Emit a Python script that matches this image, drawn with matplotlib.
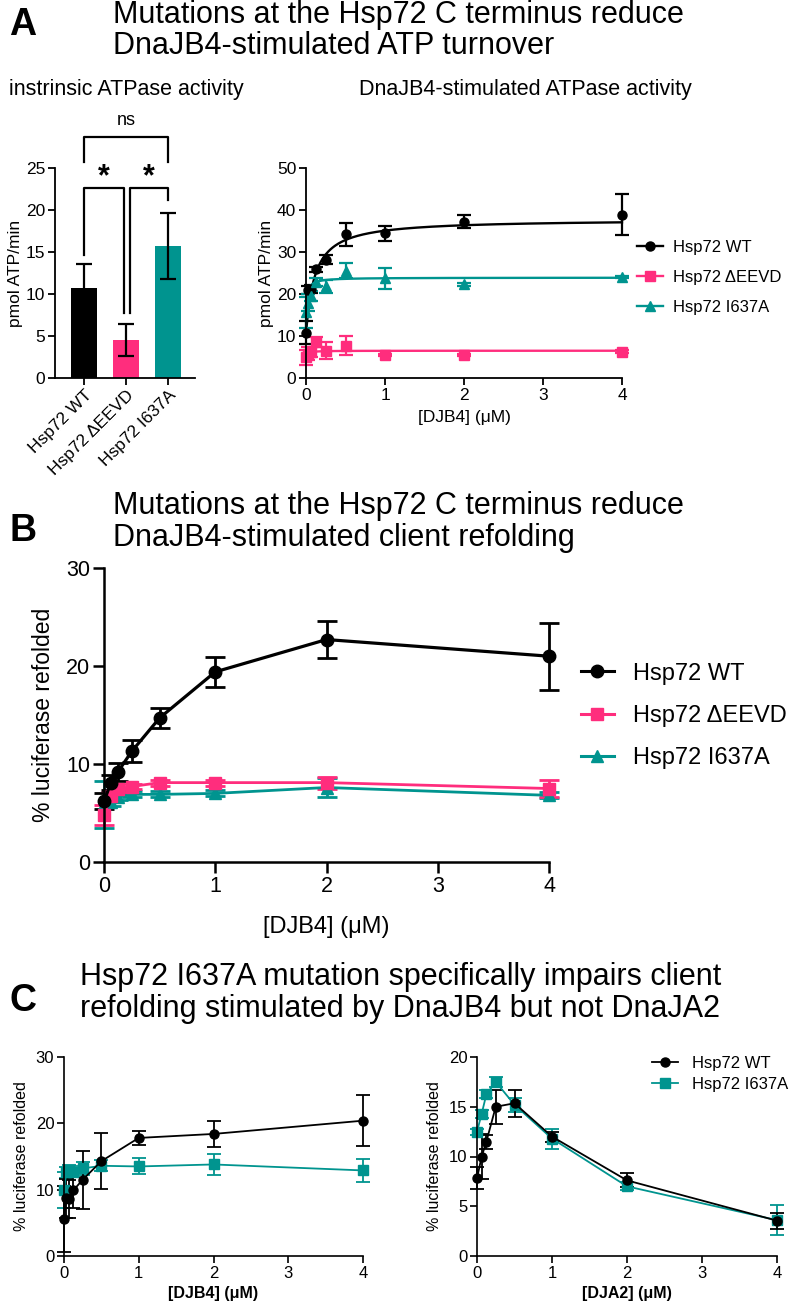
import numpy as np
import matplotlib
matplotlib.use('Agg')
from matplotlib import pyplot as plt
from matplotlib.lines import Line2D

plt.rcParams['font.family'] = ['Liberation Sans', 'DejaVu Sans']

BLACK = '#000000'
PINK = '#ff2d7d'
TEAL = '#00948f'

# ---- panel A: intrinsic ATPase (bars)
bar_labels = ['Hsp72 WT', 'Hsp72 \u0394EEVD', 'Hsp72 I637A']
bar_values = [10.7, 4.5, 15.7]
bar_err = [2.9, 1.9, 3.9]

# ---- panel A: DnaJB4-stimulated ATPase (points + hyperbolic fit)
a_x = [0, 0.03125, 0.0625, 0.125, 0.25, 0.5, 1, 2, 4]
a_wt = [10.8, 21.0, 21.2, 25.9, 28.2, 34.2, 34.5, 37.2, 38.9]
a_wt_err = [2.8, 1.0, 1.0, 0.6, 1.0, 2.8, 1.8, 1.6, 4.8]
a_eevd = [4.9, 5.8, 6.2, 8.5, 6.5, 7.7, 5.5, 5.5, 6.3]
a_eevd_err = [1.8, 1.5, 1.2, 1.2, 2.0, 2.3, 0.3, 0.3, 0.3]
a_i637a = [15.6, 17.9, 19.5, 22.8, 21.8, 25.5, 23.8, 22.3, 24.0]
a_i637a_err = [3.8, 2.0, 1.2, 1.0, 1.5, 1.8, 2.5, 0.3, 0.3]
# fit parameters y0, vmax, K
fit_wt = (10.4, 27.4, 0.11)
fit_eevd = (5.0, 1.5, 0.02)
fit_i637a = (15.5, 8.4, 0.018)

# ---- panel B: DnaJB4-stimulated refolding
b_x = [0, 0.0625, 0.125, 0.25, 0.5, 1, 2, 4]
b_wt = [6.2, 8.1, 9.2, 11.3, 14.7, 19.4, 22.7, 21.0]
b_wt_err = [0.8, 0.8, 0.9, 1.1, 1.05, 1.5, 1.85, 3.4]
b_eevd = [4.8, 6.7, 7.4, 7.7, 8.1, 8.1, 8.1, 7.5]
b_eevd_err = [1.0, 0.4, 0.3, 0.3, 0.3, 0.3, 0.6, 0.9]
b_i637a = [5.9, 6.1, 6.6, 6.9, 6.9, 7.0, 7.6, 6.8]
b_i637a_err = [2.4, 0.4, 0.3, 0.3, 0.3, 0.3, 1.0, 0.3]

# ---- panel C: DJB4 vs DJA2
c_x = [0, 0.03125, 0.0625, 0.125, 0.25, 0.5, 1, 2, 4]
c_djb4_wt = [5.6, 8.7, 8.6, 9.9, 11.5, 14.3, 17.8, 18.4, 20.4]
c_djb4_wt_err = [5.0, 2.9, 2.8, 2.6, 4.4, 4.2, 1.0, 2.0, 3.8]
c_djb4_i637a = [10.0, 12.6, 12.9, 12.7, 13.2, 13.6, 13.5, 13.8, 12.9]
c_djb4_i637a_err = [2.7, 0.8, 0.8, 0.8, 1.0, 0.8, 1.2, 1.6, 1.7]
c2_x = [0, 0.0625, 0.125, 0.25, 0.5, 1, 2, 4]
c_dja2_wt = [7.8, 10.0, 11.5, 15.0, 15.35, 12.0, 7.6, 3.55]
c_dja2_wt_err = [1.1, 2.3, 0.7, 1.7, 1.35, 0.5, 0.7, 0.8]
c_dja2_i637a = [12.5, 14.3, 16.25, 17.5, 15.2, 11.8, 7.0, 3.6]
c_dja2_i637a_err = [0.3, 0.4, 0.4, 0.5, 0.7, 1.0, 0.4, 1.5]


def style(ax, lw, ticklen, fs):
    ax.spines['top'].set_visible(False)
    ax.spines['right'].set_visible(False)
    ax.spines['left'].set_linewidth(lw)
    ax.spines['bottom'].set_linewidth(lw)
    ax.tick_params(direction='out', width=lw, length=ticklen, labelsize=fs, pad=2)


W, H = 791, 1308
fig = plt.figure(figsize=(W / 100, H / 100), dpi=100)


def axes_px(x0, x1, y_top, y_bot):
    return fig.add_axes([x0 / W, 1 - y_bot / H, (x1 - x0) / W, (y_bot - y_top) / H])


def title_px(x, y1, y2, line1, line2, fs=22):
    # y values are baselines in pixels from the top
    fig.text(x / W, 1 - y1 / H, line1, fontsize=fs, va='baseline', ha='left')
    fig.text(x / W, 1 - y2 / H, line2, fontsize=fs, va='baseline', ha='left')


def letter(y, s):
    fig.text(23 / W, 1 - y / H, s, fontsize=27, fontweight='bold', va='center', ha='center')


# ======== A
letter(25, 'A')
title_px(113, 23, 54, 'Mutations at the Hsp72 C terminus reduce', 'DnaJB4-stimulated ATP turnover')
fig.text(126 / W, 1 - 90 / H, 'instrinsic ATPase activity', fontsize=15.5, ha='center', va='center')
fig.text(525 / W, 1 - 90 / H, 'DnaJB4-stimulated ATPase activity', fontsize=15.5, ha='center', va='center')

ax = axes_px(55, 195, 168, 378)
pos = np.arange(len(bar_values))
ax.bar(pos, bar_values, width=0.6, color=[BLACK, PINK, TEAL])
ax.errorbar(pos, bar_values, yerr=bar_err, fmt='none', ecolor=BLACK, elinewidth=1.6,
            capsize=6, capthick=1.6)
ax.set_xlim(-0.69, 2.64)
ax.set_ylim(0, 25)
ax.set_yticks([0, 5, 10, 15, 20, 25])
ax.set_xticks(pos)
ax.set_xticklabels(bar_labels, rotation=45, ha='right', rotation_mode='anchor')
ax.set_ylabel('pmol ATP/min', fontsize=12.5, labelpad=2)
style(ax, 1.3, 5, 12.5)
brackets = [
    (0, 2, 28.7, 25.7, 25.7, 'ns', 30.6, 13),
    (0, 0.94, 22.6, 14.6, 7.7, '*', 23.9, 22),
    (1.09, 2, 22.6, 7.7, 21.2, '*', 23.9, 22),
]
for x0, x1, ytop, yl, yr, txt, yt, fs in brackets:
    ax.plot([x0, x0, x1, x1], [yl, ytop, ytop, yr], color=BLACK, lw=1.6, clip_on=False)
    ax.text((x0 + x1) / 2, yt, txt, ha='center', va='center', fontsize=fs,
            fontweight='bold' if txt == '*' else 'normal')

ax = axes_px(306, 622, 168, 378)
xs = np.linspace(0, 4, 400)
for yv, ye, fit, col, mk in [(a_wt, a_wt_err, fit_wt, BLACK, 'o'),
                             (a_eevd, a_eevd_err, fit_eevd, PINK, 's'),
                             (a_i637a, a_i637a_err, fit_i637a, TEAL, '^')]:
    y0, vmax, k = fit
    ax.plot(xs, y0 + vmax * xs / (k + xs), color=col, lw=1.7, clip_on=False)
    ax.errorbar(a_x, yv, yerr=ye, fmt=mk, color=col, ms=6.5, elinewidth=1.6, capsize=5,
                capthick=1.6, clip_on=False)
ax.set_xlim(0, 4)
ax.set_ylim(0, 50)
ax.set_xticks([0, 1, 2, 3, 4])
ax.set_yticks([0, 10, 20, 30, 40, 50])
ax.set_xlabel('[DJB4] (\u03bcM)', fontsize=12.5, labelpad=5)
ax.set_ylabel('pmol ATP/min', fontsize=12.5, labelpad=2)
style(ax, 1.3, 5, 12.5)
handles = [Line2D([], [], color=c, marker=m, ms=6.5, lw=1.7) for c, m in
           [(BLACK, 'o'), (PINK, 's'), (TEAL, '^')]]
ax.legend(handles, ['Hsp72 WT', 'Hsp72 \u0394EEVD', 'Hsp72 I637A'], loc='upper left',
          bbox_to_anchor=(1.025, 0.69), frameon=False, fontsize=12, handlelength=1.6,
          handletextpad=0.6, labelspacing=0.9, borderaxespad=0)

# ======== B
letter(531, 'B')
title_px(113, 514, 546, 'Mutations at the Hsp72 C terminus reduce', 'DnaJB4-stimulated client refolding')
ax = axes_px(104, 549, 568, 862)
for yv, ye, col, mk in [(b_wt, b_wt_err, BLACK, 'o'),
                        (b_eevd, b_eevd_err, PINK, 's'),
                        (b_i637a, b_i637a_err, TEAL, '^')][::-1]:
    ax.errorbar(b_x, yv, yerr=ye, fmt='-' + mk, color=col, ms=9,
                lw=2.0 if col != BLACK else 2.3, elinewidth=2, capsize=7, capthick=2,
                clip_on=False)
ax.set_xlim(0, 4)
ax.set_ylim(0, 30)
ax.set_xticks([0, 1, 2, 3, 4])
ax.set_yticks([0, 10, 20, 30])
ax.set_xlabel('[DJB4] (\u03bcM)', fontsize=17, labelpad=14)
ax.set_ylabel('% luciferase refolded', fontsize=16.5, labelpad=8)
style(ax, 1.8, 8, 15.5)
handles = [Line2D([], [], color=c, marker=m, ms=9, lw=2.2) for c, m in
           [(BLACK, 'o'), (PINK, 's'), (TEAL, '^')]]
ax.legend(handles, ['Hsp72 WT', 'Hsp72 \u0394EEVD', 'Hsp72 I637A'], loc='upper left',
          bbox_to_anchor=(1.05, 0.71), frameon=False, fontsize=17, handlelength=1.4,
          labelspacing=0.85, borderaxespad=0)

# ======== C
letter(1001, 'C')
title_px(80, 985, 1017, 'Hsp72 I637A mutation specifically impairs client',
         'refolding stimulated by DnaJB4 but not DnaJA2')

ax = axes_px(64, 363, 1057, 1256)
for xv, yv, ye, col, mk in [(c_x, c_djb4_i637a, c_djb4_i637a_err, TEAL, 's'),
                            (c_x, c_djb4_wt, c_djb4_wt_err, BLACK, 'o')]:
    ax.errorbar(xv, yv, yerr=ye, fmt='-' + mk, color=col, ms=6.5, lw=1.3, elinewidth=1.3,
                capsize=5, capthick=1.3, clip_on=False)
ax.set_xlim(0, 4)
ax.set_ylim(0, 30)
ax.set_xticks([0, 1, 2, 3, 4])
ax.set_yticks([0, 10, 20, 30])
ax.set_xlabel('[DJB4] (\u03bcM)', fontsize=11.5, fontweight='bold', labelpad=4)
ax.set_ylabel('% luciferase refolded', fontsize=11.5, labelpad=5)
style(ax, 1.2, 5, 12)

ax = axes_px(477, 777, 1057, 1256)
for xv, yv, ye, col, mk in [(c2_x, c_dja2_i637a, c_dja2_i637a_err, TEAL, 's'),
                            (c2_x, c_dja2_wt, c_dja2_wt_err, BLACK, 'o')]:
    ax.errorbar(xv, yv, yerr=ye, fmt='-' + mk, color=col, ms=6.5, lw=1.3, elinewidth=1.3,
                capsize=5, capthick=1.3, clip_on=False)
ax.set_xlim(0, 4)
ax.set_ylim(0, 20)
ax.set_xticks([0, 1, 2, 3, 4])
ax.set_yticks([0, 5, 10, 15, 20])
ax.set_xlabel('[DJA2] (\u03bcM)', fontsize=11.5, fontweight='bold', labelpad=4)
ax.set_ylabel('% luciferase refolded', fontsize=11.5, labelpad=5)
style(ax, 1.2, 5, 12)
handles = [Line2D([], [], color=c, marker=m, ms=6.5, lw=1.3) for c, m in
           [(BLACK, 'o'), (TEAL, 's')]]
ax.legend(handles, ['Hsp72 WT', 'Hsp72 I637A'], loc='upper left',
          bbox_to_anchor=(0.56, 1.04), frameon=False, fontsize=12, handlelength=1.6,
          labelspacing=0.35, borderaxespad=0)

fig.savefig('out.png', dpi=100)
